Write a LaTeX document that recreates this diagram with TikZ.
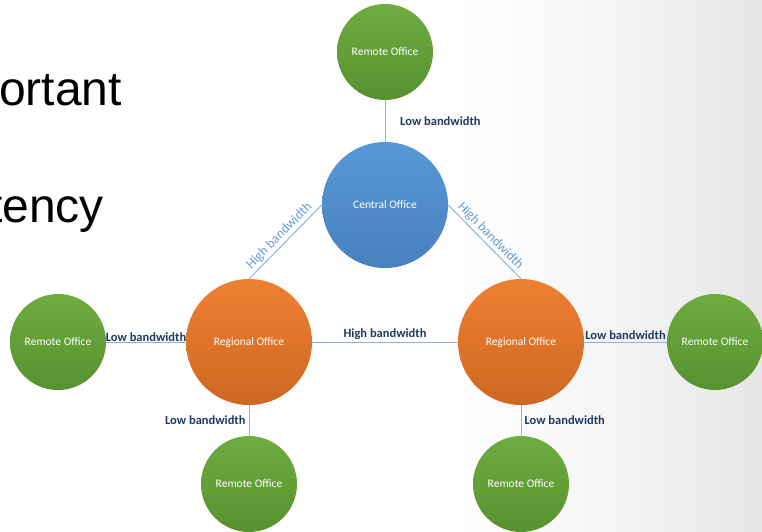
\documentclass[tikz,border=0pt]{standalone}
\usepackage{fontspec}
\setmainfont{Carlito}
\newfontfamily\slidefont{Liberation Sans}
\definecolor{edgeblue}{HTML}{8DB3E2}
\definecolor{hbblue}{HTML}{6A9BD8}
\definecolor{navy}{HTML}{1F3A64}
\pgfdeclarehorizontalshading{bgshade}{100bp}{
  color(0bp)=(white); color(55bp)=(white); color(65bp)=(white!96!black);
  color(82bp)=(white!86!black); color(100bp)=(white!72!black)}
\tikzset{
  office/.style={circle, draw=none, inner sep=0pt, text=white,
     font=\fontsize{11.5}{13}\selectfont, align=center},
  remote/.style={office, minimum size=96pt, top color={rgb,255:red,110;green,172;blue,64}, bottom color={rgb,255:red,88;green,145;blue,48}},
  regional/.style={office, minimum size=126pt, top color={rgb,255:red,238;green,128;blue,50}, bottom color={rgb,255:red,206;green,104;blue,34}},
  central/.style={office, minimum size=126pt, top color={rgb,255:red,88;green,152;blue,214}, bottom color={rgb,255:red,72;green,128;blue,190}},
  link/.style={draw=edgeblue, line width=1pt},
  lowlbl/.style={text=navy, font=\bfseries\fontsize{12.5}{14}\selectfont, inner sep=1pt},
  highlbl/.style={text=hbblue, font=\fontsize{13.5}{15}\selectfont, inner sep=1pt},
  slidetext/.style={font=\slidefont\fontsize{48}{54}\selectfont, anchor=base west, inner sep=0pt, text=black}
}
\begin{document}
\begin{tikzpicture}[x=1pt,y=-1pt]
\useasboundingbox (0,0) rectangle (762,531);
\clip (0,0) rectangle (762,531);
\shade[shading=bgshade] (0,0) rectangle (762,531);
% slide text
\node[slidetext] (t1) at (-1,105) {ortant};
\node[slidetext] (t2) at (-11,222) {tency};
% offices
\node[remote] (rt) at (385,52) {Remote Office};
\node[central] (c) at (385,205) {Central Office};
\node[regional] (rl) at (249,342) {Regional Office};
\node[regional] (rr) at (521,342) {Regional Office};
\node[remote] (rml) at (58,342) {Remote Office};
\node[remote] (rmr) at (715,342) {Remote Office};
\node[remote] (rbl) at (249,484) {Remote Office};
\node[remote] (rbr) at (521,484) {Remote Office};
% links
\draw[link] (rt) -- (c);
\draw[link] (c.west) -- (rl.north) node[midway, sloped, above=1pt, highlbl] {High bandwidth};
\draw[link] (c.east) -- (rr.north) node[midway, sloped, above=1pt, highlbl] {High bandwidth};
\draw[link] (rl) -- (rr) node[midway, above=1pt, lowlbl] {High bandwidth};
\draw[link] (rml) -- (rl) node[midway, above=-1pt, lowlbl] {Low bandwidth};
\draw[link] (rr) -- (rmr) node[midway, above=1pt, lowlbl] {Low bandwidth};
\draw[link] (rl) -- (rbl) node[midway, left=2pt, lowlbl] {Low bandwidth};
\draw[link] (rr) -- (rbr) node[midway, right=2pt, lowlbl] {Low bandwidth};
\path (rt) -- (c) node[midway, right=14pt, lowlbl] {Low bandwidth};
\end{tikzpicture}
\end{document}
